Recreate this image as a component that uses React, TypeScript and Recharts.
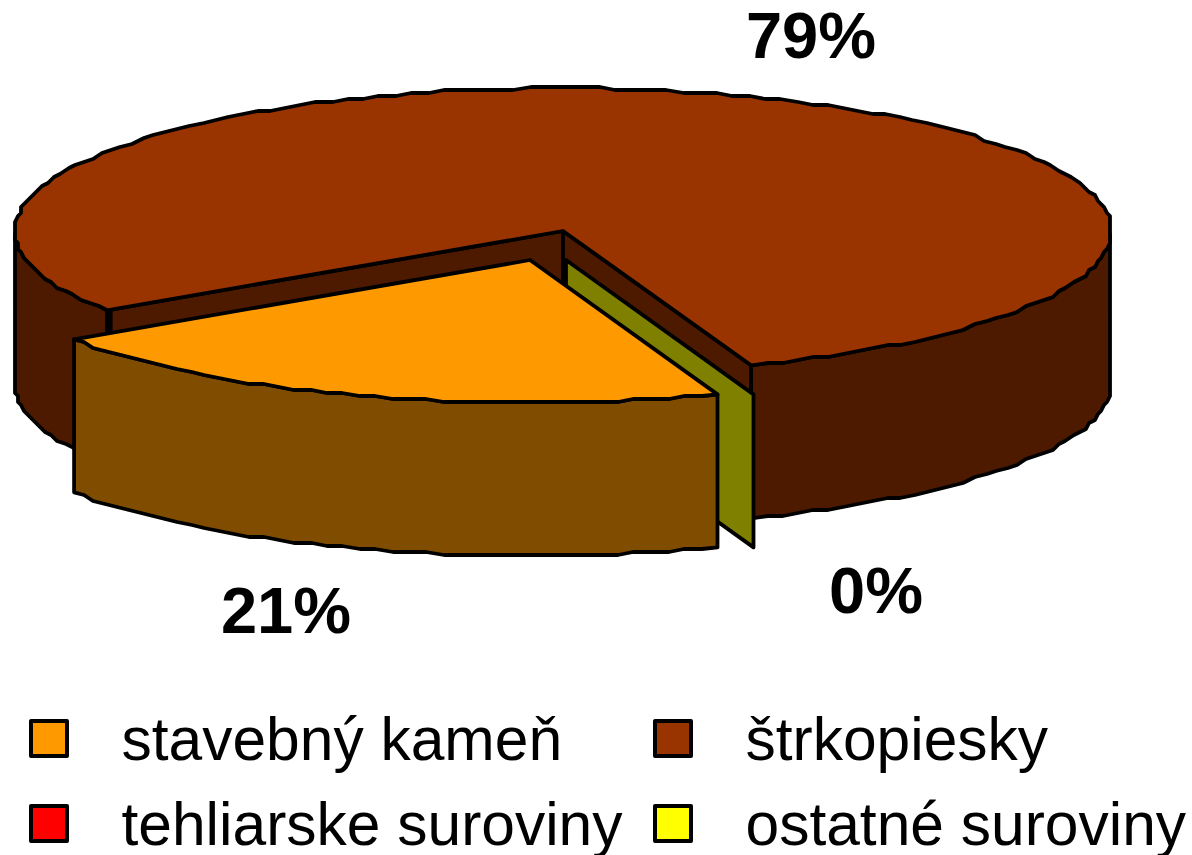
import React from "react";
import { PieChart, Pie, Legend } from "recharts";

// Data, in drawing order (clockwise from the left cut of the large slice)
const categories = ["štrkopiesky", "tehliarske suroviny", "ostatné suroviny", "stavebný kameň"];
const shares = [78.8, 0, 0.02, 21.2];
const topColors = ["#993300", "#FF0000", "#FFFF00", "#FF9900"];
const wallColors = ["#4D1A00", "#800000", "#808000", "#804D00"];
const legendOrder = ["stavebný kameň", "štrkopiesky", "tehliarske suroviny", "ostatné suroviny"];

const tableData = categories.map((name, i) => ({ name, value: shares[i], fill: topColors[i], wall: wallColors[i] }));

// Layout and style
const W = 1192;
const H = 855;
const CX = 563;
const CY = 231;
const RX = 548;
const TILT = 143 / 548;
const DEPTH = 153;
const START_ANGLE = 213.7;
const STROKE = 3.8;
const GRID = 3;
const FONT = "'Liberation Sans', Arial, sans-serif";
const explodeOffsets: Record<string, [number, number]> = {
  "stavebný kameň": [-33, 29],
  "ostatné suroviny": [3, 29],
};
const labelPlaces: Record<string, [number, number]> = {
  "štrkopiesky": [811, 58],
  "stavebný kameň": [286, 633],
  "ostatné suroviny": [876, 613],
};
const legendPlaces: Record<string, [number, number]> = {
  "stavebný kameň": [0, 0],
  "štrkopiesky": [1, 0],
  "tehliarske suroviny": [0, 1],
  "ostatné suroviny": [1, 1],
};

const snap = (v: number) => Math.round(v / GRID) * GRID;
const pathOf = (pts: number[][], close = true) =>
  pts.map((p, i) => `${i ? "L" : "M"}${p[0].toFixed(1)},${p[1].toFixed(1)}`).join("") + (close ? "Z" : "");

function SliceShape(props: any) {
  const { cx, cy, outerRadius, startAngle, endAngle, fill, name, value, payload } = props;
  const label = name ?? payload?.name;
  if (!value) return null;
  const wall = payload?.wall ?? props.wall;
  const [ox, oy] = explodeOffsets[label] ?? [0, 0];
  const at = (deg: number) => {
    const a = (deg * Math.PI) / 180;
    return [cx + ox + outerRadius * Math.cos(a), cy + oy - outerRadius * TILT * Math.sin(a)];
  };
  const apex = [cx + ox, cy + oy];
  const down = (p: number[]) => [p[0], p[1] + DEPTH];
  const sweep = Math.abs(endAngle - startAngle);
  const dir = endAngle < startAngle ? -1 : 1;
  const n = Math.max(1, Math.round(sweep / 1.8));
  const angles = Array.from({ length: n + 1 }, (_, i) => startAngle + (dir * sweep * i) / n);
  const rim = angles.map((deg, i) => {
    const p = at(deg);
    return i === 0 || i === n ? p : [snap(p[0]), snap(p[1])];
  });
  const frontRuns: number[][][] = [];
  let run: number[][] = [];
  angles.forEach((deg, i) => {
    if (Math.sin((deg * Math.PI) / 180) <= 0.001) run.push(rim[i]);
    else if (run.length) {
      frontRuns.push(run);
      run = [];
    }
  });
  if (run.length) frontRuns.push(run);
  const first = at(startAngle);
  const last = at(endAngle);
  const common = { stroke: "#000", strokeWidth: STROKE, strokeLinejoin: "round" as const };
  const big = sweep > 180;
  const tiny = sweep < 1;
  const firstInset = [first[0] + 3.6, first[1] - 0.6];
  return (
    <g>
      {big && <path d={pathOf([apex, firstInset, down(firstInset), down(apex)])} fill={wall} {...common} />}
      {big && <path d={pathOf([apex, last, down(last), down(apex)])} fill={wall} {...common} />}
      {tiny && <path d={pathOf([apex, last, down(last), down(apex)])} fill={wall} {...common} />}
      {!tiny &&
        frontRuns.map((r, i) => (
          <path key={i} d={pathOf([...r, ...r.map(down).reverse()])} fill={wall} {...common} />
        ))}
      {!tiny && <path d={pathOf([apex, ...rim])} fill={fill} {...common} />}
    </g>
  );
}

function percentLabel(props: any) {
  const { name, value, percent } = props;
  const place = labelPlaces[name];
  if (!place) return null;
  return (
    <text
      x={place[0]}
      y={place[1]}
      textAnchor="middle"
      fill="#000"
      fontFamily={FONT}
      fontWeight="bold"
      fontSize={65}
    >
      {`${Math.round((percent ?? value / 100) * 100)}%`}
    </text>
  );
}

function LegendBlock({ payload }: any) {
  const items = legendOrder.map((n) => (payload ?? []).find((p: any) => p.value === n)).filter(Boolean);
  return (
    <div>
      {items.map((item: any) => {
        const [col, row] = legendPlaces[item.value];
        const top = 719 + row * 85;
        const left = col ? 653 : 29;
        return (
          <div key={item.value}>
            <div
              style={{
                position: "absolute",
                left,
                top,
                width: 40,
                height: 39,
                boxSizing: "border-box",
                background: item.color,
                border: "4px solid #000",
                borderRadius: 2,
              }}
            />
            <div
              style={{
                position: "absolute",
                left: col ? 745.5 : 121.5,
                top: top - 9,
                font: `60.5px/58px ${FONT}`,
                color: "#000",
                whiteSpace: "nowrap",
              }}
            >
              {item.value}
            </div>
          </div>
        );
      })}
    </div>
  );
}

export default function App() {
  return (
    <div style={{ position: "absolute", left: 0, top: 0, width: W, height: H, background: "#fff", overflow: "hidden" }}>
      <PieChart width={W} height={H} margin={{ top: 0, right: 0, bottom: 0, left: 0 }}>
        <Pie
          data={tableData}
          dataKey="value"
          nameKey="name"
          cx={CX}
          cy={CY}
          innerRadius={0}
          outerRadius={RX}
          startAngle={START_ANGLE}
          endAngle={START_ANGLE - 360}
          paddingAngle={0}
          stroke="none"
          isAnimationActive={false}
          shape={SliceShape}
          label={percentLabel}
          labelLine={false}
          rootTabIndex={-1}
        />
        <Legend
          content={LegendBlock}
          wrapperStyle={{ position: "absolute", left: 0, top: 0, width: W, height: 0, margin: 0, padding: 0 }}
        />
      </PieChart>
    </div>
  );
}
